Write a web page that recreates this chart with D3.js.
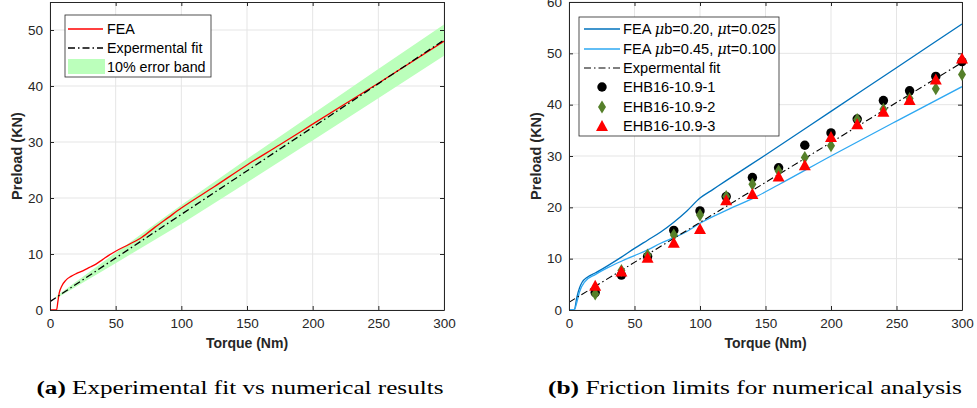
<!DOCTYPE html>
<html><head><meta charset="utf-8">
<script src="https://cdn.jsdelivr.net/npm/d3@7"></script>
<style>body{margin:0;background:#fff}svg{display:block}</style>
</head><body>
<svg id="c" width="977" height="408"></svg>
<script>
// ---------- data ----------
const xTicks = [0, 50, 100, 150, 200, 250, 300];
const yTicksA = [0, 10, 20, 30, 40, 50];
const yTicksB = [0, 10, 20, 30, 40, 50, 60];

const fitTorque = [0, 300];
const fitPreload = [1.5, 48.2];

const bandTorque = [5, 50, 100, 150, 200, 250, 300];
const bandLow = [2.08, 8.36, 15.37, 22.76, 30.29, 37.83, 45.4];
const bandHigh = [2.48, 10.22, 18.77, 26.96, 34.99, 43.03, 51.0];

const feaTorque = [0, 5, 6, 7, 9, 12, 16, 20, 25, 30, 35, 40, 45, 50, 60, 70, 80, 90, 100, 125, 150, 175, 200, 250, 300];
const feaPreload = [0, 0, 1.5, 3, 4.3, 5.3, 6, 6.5, 7, 7.6, 8.2, 9, 9.8, 10.5, 11.7, 13, 14.8, 16.5, 18.2, 22, 25.9, 29.5, 33.2, 40.5, 48];

const feaLowTorque = [0, 4, 6, 8, 10, 14, 20, 30, 40, 50, 60, 70, 80, 90, 100, 110, 120, 150, 200, 250, 300];
const feaLowPreload = [0, 0, 2.5, 4.3, 5.4, 6.4, 7.2, 8.7, 10.3, 12.0, 13.6, 15.2, 17.1, 19.3, 21.8, 23.5, 25.2, 30.2, 38.7, 47.2, 55.7];

const feaHighTorque = [0, 4, 6, 8, 12, 20, 30, 40, 50, 60, 70, 80, 90, 100, 120, 140, 160, 200, 250, 300];
const feaHighPreload = [0, 0, 1.5, 3.5, 5.5, 6.9, 8.3, 9.5, 10.6, 11.7, 13, 14.1, 15.3, 16.9, 19.4, 21.7, 24.4, 30.0, 36.8, 43.5];

const testTorque = [20, 40, 60, 80, 100, 120, 140, 160, 180, 200, 220, 240, 260, 280, 300];
const ehb1 = [3.4, 6.8, 10.4, 15.5, 19.3, 22.1, 25.8, 27.7, 32.1, 34.5, 37.2, 40.8, 42.7, 45.5, 48.4];
const ehb2 = [3.1, 7.7, 10.7, 14.6, 18.5, 22.1, 24.5, 27.1, 29.7, 32.0, 37.1, 39.1, 41.2, 43.1, 45.9];
const ehb3 = [4.7, 7.5, 10.2, 13.1, 15.8, 21.4, 22.6, 26.0, 28.2, 33.7, 36.2, 38.6, 40.9, 44.9, 49.0];

// ---------- styles ----------
const AX = "#262626", GRID = "#e5e5e5", FONT = "'Liberation Sans', Arial, sans-serif";
const BAND = "#bbffbb", RED = "#ff0000", DARKBLUE = "#0072bd", LIGHTBLUE = "#2ea8f2", OLIVE = "#55802a";

const svg = d3.select("#c");

function panel(id, left, right, yMax, yTicks) {
  const x = d3.scaleLinear().domain([0, 300]).range([left, right]);
  const y = d3.scaleLinear().domain([0, yMax]).range([310, 2]);
  const g = svg.append("g");
  g.selectAll(null).data(xTicks).join("line")
    .attr("x1", d => x(d)).attr("x2", d => x(d)).attr("y1", y(0)).attr("y2", y(yMax))
    .attr("stroke", GRID).attr("stroke-width", 1);
  g.selectAll(null).data(yTicks).join("line")
    .attr("y1", d => y(d)).attr("y2", d => y(d)).attr("x1", x(0)).attr("x2", x(300))
    .attr("stroke", GRID).attr("stroke-width", 1);
  svg.append("clipPath").attr("id", id).append("rect")
    .attr("x", x(0)).attr("y", y(yMax)).attr("width", x(300) - x(0)).attr("height", y(0) - y(yMax));
  const plot = svg.append("g").attr("clip-path", `url(#${id})`);
  const axes = svg.append("g");
  const mk = (ax, tr) => axes.append("g").attr("transform", tr).call(ax)
    .call(s => { s.select(".domain").attr("stroke", AX).attr("stroke-width", 1);
      s.selectAll(".tick line").attr("stroke", AX);
      s.selectAll("text").attr("fill", AX).attr("font-family", FONT).attr("font-size", 13.5); });
  mk(d3.axisBottom(x).tickValues(xTicks).tickSizeInner(-4).tickSizeOuter(0).tickPadding(8), `translate(0,${y(0)})`);
  mk(d3.axisTop(x).tickValues(xTicks).tickSizeInner(-4).tickSizeOuter(0).tickFormat(""), `translate(0,${y(yMax)})`);
  mk(d3.axisLeft(y).tickValues(yTicks).tickSizeInner(-4).tickSizeOuter(0).tickPadding(7), `translate(${x(0)},0)`);
  mk(d3.axisRight(y).tickValues(yTicks).tickSizeInner(-4).tickSizeOuter(0).tickFormat(""), `translate(${x(300)},0)`);
  axes.append("text").attr("x", (x(0) + x(300)) / 2).attr("y", 348).attr("text-anchor", "middle")
    .attr("font-family", FONT).attr("font-weight", "bold").attr("font-size", 14).attr("fill", AX).text("Torque (Nm)");
  axes.append("text").attr("transform", `translate(${x(0) - 28},${y(yMax / 2)}) rotate(-90)`).attr("text-anchor", "middle")
    .attr("font-family", FONT).attr("font-weight", "bold").attr("font-size", 14.5).attr("fill", AX).text("Preload (KN)");
  return {x, y, plot, axes};
}

const line = (x, y) => d3.line().x(d => x(d[0])).y(d => y(d[1])).curve(d3.curveMonotoneX);
const zip = (a, b) => a.map((v, i) => [v, b[i]]);
const DASHDOT = "7,3,1.5,3";

// ---------- panel a ----------
const A = panel("clipA", 50, 444, 55, yTicksA);
A.plot.append("path")
  .datum(bandTorque.map((t, i) => ({t, lo: bandLow[i], hi: bandHigh[i]})))
  .attr("d", d3.area().x(d => A.x(d.t)).y0(d => A.y(d.lo)).y1(d => A.y(d.hi)))
  .attr("fill", BAND);
A.plot.append("path").datum(zip(feaTorque, feaPreload)).attr("d", line(A.x, A.y))
  .attr("fill", "none").attr("stroke", RED).attr("stroke-width", 1.3);
A.plot.append("path").datum(zip(fitTorque, fitPreload)).attr("d", line(A.x, A.y))
  .attr("fill", "none").attr("stroke", "#000").attr("stroke-width", 1.3).attr("stroke-dasharray", DASHDOT);

{
  const lg = svg.append("g");
  lg.append("rect").attr("x", 65).attr("y", 15).attr("width", 146).attr("height", 62)
    .attr("fill", "#fff").attr("stroke", AX).attr("stroke-width", 0.8);
  lg.append("line").attr("x1", 68).attr("x2", 103).attr("y1", 29).attr("y2", 29).attr("stroke", RED).attr("stroke-width", 1.3);
  lg.append("line").attr("x1", 68).attr("x2", 103).attr("y1", 48).attr("y2", 48).attr("stroke", "#000").attr("stroke-width", 1.3).attr("stroke-dasharray", DASHDOT);
  lg.append("rect").attr("x", 68).attr("y", 59).attr("width", 37).attr("height", 15).attr("fill", BAND);
  [["FEA", 29], ["Expermental fit", 48], ["10% error band", 67]].forEach(([t, yy]) =>
    lg.append("text").attr("x", 107).attr("y", yy).attr("dy", "0.35em").attr("font-family", FONT)
      .attr("font-size", 14.3).attr("fill", "#000").text(t));
}

// ---------- panel b ----------
const B = panel("clipB", 569, 962, 60, yTicksB);
B.plot.append("path").datum(zip(feaLowTorque, feaLowPreload)).attr("d", line(B.x, B.y))
  .attr("fill", "none").attr("stroke", DARKBLUE).attr("stroke-width", 1.3);
B.plot.append("path").datum(zip(feaHighTorque, feaHighPreload)).attr("d", line(B.x, B.y))
  .attr("fill", "none").attr("stroke", LIGHTBLUE).attr("stroke-width", 1.3);
B.plot.append("path").datum(zip(fitTorque, fitPreload)).attr("d", line(B.x, B.y))
  .attr("fill", "none").attr("stroke", "#000").attr("stroke-width", 1.1).attr("stroke-dasharray", DASHDOT);

const circle = d3.symbol().type(d3.symbolCircle).size(70);
const diamond = "M0,-6.5L4,0L0,6.5L-4,0Z";
const tri = "M0,-6L6,5L-6,5Z";
const mgrp = svg.append("g");
mgrp.selectAll(null).data(zip(testTorque, ehb1)).join("path").attr("d", circle)
  .attr("transform", d => `translate(${B.x(d[0])},${B.y(d[1])})`).attr("fill", "#000");
mgrp.selectAll(null).data(zip(testTorque, ehb2)).join("path").attr("d", diamond)
  .attr("transform", d => `translate(${B.x(d[0])},${B.y(d[1])})`).attr("fill", OLIVE);
mgrp.selectAll(null).data(zip(testTorque, ehb3)).join("path").attr("d", tri)
  .attr("transform", d => `translate(${B.x(d[0])},${B.y(d[1])})`).attr("fill", RED);

{
  const lg = svg.append("g");
  lg.append("rect").attr("x", 579).attr("y", 17).attr("width", 200).attr("height", 119)
    .attr("fill", "#fff").attr("stroke", AX).attr("stroke-width", 0.8);
  const ys = [29, 49, 68, 87, 107, 126];
  lg.append("line").attr("x1", 584).attr("x2", 620).attr("y1", ys[0]).attr("y2", ys[0]).attr("stroke", DARKBLUE).attr("stroke-width", 1.3);
  lg.append("line").attr("x1", 584).attr("x2", 620).attr("y1", ys[1]).attr("y2", ys[1]).attr("stroke", LIGHTBLUE).attr("stroke-width", 1.3);
  lg.append("line").attr("x1", 584).attr("x2", 620).attr("y1", ys[2]).attr("y2", ys[2]).attr("stroke", "#000").attr("stroke-width", 1.1).attr("stroke-dasharray", DASHDOT);
  lg.append("path").attr("d", circle).attr("transform", `translate(602,${ys[3]})`).attr("fill", "#000");
  lg.append("path").attr("d", diamond).attr("transform", `translate(602,${ys[4]})`).attr("fill", OLIVE);
  lg.append("path").attr("d", tri).attr("transform", `translate(602,${ys[5]})`).attr("fill", RED);
  const txt = (yy) => lg.append("text").attr("x", 623).attr("y", yy).attr("dy", "0.35em")
    .attr("font-family", FONT).attr("font-size", 14.6).attr("fill", "#000");
  const fea = (yy, b, t) => {
    const e = txt(yy);
    e.append("tspan").text("FEA ");
    e.append("tspan").attr("font-style", "italic").attr("font-family", "'DejaVu Serif', serif").text("μ");
    e.append("tspan").text(`b=${b}, `);
    e.append("tspan").attr("font-style", "italic").attr("font-family", "'DejaVu Serif', serif").text("μ");
    e.append("tspan").text(`t=${t}`);
  };
  fea(ys[0], "0.20", "0.025");
  fea(ys[1], "0.45", "0.100");
  txt(ys[2]).text("Expermental fit");
  txt(ys[3]).text("EHB16-10.9-1");
  txt(ys[4]).text("EHB16-10.9-2");
  txt(ys[5]).text("EHB16-10.9-3");
}

// ---------- captions ----------
const SERIF = "'Liberation Serif', 'DejaVu Serif', serif";
function caption(cx, tag, rest, width) {
  const t = svg.append("text").attr("x", cx).attr("y", 394).attr("text-anchor", "middle")
    .attr("font-family", SERIF).attr("font-size", 19.5).attr("fill", "#000");
  t.append("tspan").attr("font-weight", "bold").text(tag);
  t.append("tspan").text(" " + rest);
  t.attr("textLength", width).attr("lengthAdjust", "spacingAndGlyphs");
}
caption(240, "(a)", "Experimental fit vs numerical results", 407);
caption(755, "(b)", "Friction limits for numerical analysis", 414);
</script>
</body></html>
